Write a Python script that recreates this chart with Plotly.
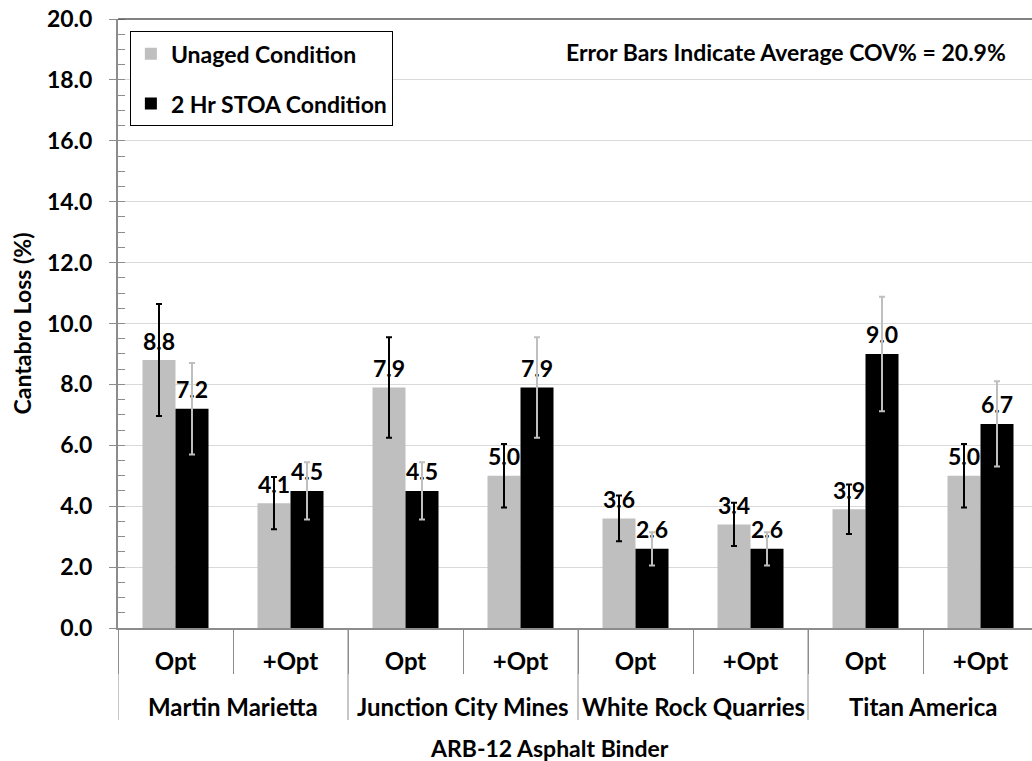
import plotly.graph_objects as go

suppliers = ["Martin Marietta", "Martin Marietta", "Junction City Mines", "Junction City Mines",
             "White Rock Quarries", "White Rock Quarries", "Titan America", "Titan America"]
contents = ["Opt", "+Opt", "Opt", "+Opt", "Opt", "+Opt", "Opt", "+Opt"]
unaged = [8.8, 4.1, 7.9, 5.0, 3.6, 3.4, 3.9, 5.0]
stoa = [7.2, 4.5, 4.5, 7.9, 2.6, 2.6, 9.0, 6.7]
cov_pct = 20.9

FONT = "Lato"
GREY = "#bfbfbf"
AXIS = "#8c8c8c"
pos = list(range(len(contents)))
BARGAP = 0.426

series = [
    ("Unaged Condition", unaged, GREY, "black", "a"),
    ("2 Hr STOA Condition", stoa, "#000000", GREY, "b"),
]

fig = go.Figure()
for name, vals, col, errcol, grp in series:
    fig.add_trace(go.Bar(
        x=pos, y=vals, name=name, legendgroup=grp, offsetgroup=grp, alignmentgroup="g",
        marker=dict(color=col, line=dict(width=0)), hoverinfo="y",
    ))
# value labels, grouped like the bars
for name, vals, col, errcol, grp in series:
    fig.add_trace(go.Scatter(
        x=pos, y=vals, mode="markers+text", showlegend=False,
        offsetgroup=grp, alignmentgroup="g",
        marker=dict(size=6, opacity=0), hoverinfo="skip",
        text=[f"{v:.1f}" for v in vals], textposition="top center", cliponaxis=False,
        textfont=dict(family=FONT, size=23, color="black", weight="bold"),
    ))
# error bars drawn on top of the labels
for name, vals, col, errcol, grp in series:
    fig.add_trace(go.Scatter(
        x=pos, y=vals, mode="markers", showlegend=False,
        offsetgroup=grp, alignmentgroup="g",
        marker=dict(size=1, opacity=0), hoverinfo="skip", cliponaxis=False,
        error_y=dict(type="percent", value=cov_pct, color=errcol, thickness=2, width=3),
    ))

# group (outer) labels and dividers
groups = []
for i, s in enumerate(suppliers):
    if not groups or groups[-1][0] != s:
        groups.append([s, i, i])
    else:
        groups[-1][2] = i

annotations = []
shapes = [dict(type="line", xref="paper", yref="paper", x0=0, x1=1, y0=1, y1=1,
               line=dict(color="#595959", width=1.5))]
for name, a, b in groups:
    annotations.append(dict(text=name, x=(a + b) / 2, xref="x", y=-0.1297, yref="paper",
                            xanchor="center", yanchor="middle", showarrow=False,
                            font=dict(family=FONT, size=24, color="black", weight="bold")))
    shapes.append(dict(type="line", xref="x", yref="paper", x0=a - 0.5, x1=a - 0.5,
                       y0=0, y1=-0.151, line=dict(color=AXIS, width=1)))

annotations.append(dict(text="Error Bars Indicate Average COV% = 20.9%",
                        xref="paper", yref="paper", x=0.731, y=0.946,
                        xanchor="center", yanchor="middle", showarrow=False,
                        font=dict(family=FONT, size=23, color="black", weight="bold")))
annotations.append(dict(text="ARB-12 Asphalt Binder", xref="paper", yref="paper",
                        x=0.4726, y=-0.197, xanchor="center", yanchor="middle", showarrow=False,
                        font=dict(family=FONT, size=23, color="black", weight="bold")))

fig.update_layout(
    width=1032, height=761,
    margin=dict(l=118, r=0, t=19, b=133, autoexpand=False),
    paper_bgcolor="white", plot_bgcolor="white",
    barmode="group", bargap=BARGAP, bargroupgap=0,
    scattermode="group", scattergap=BARGAP,
    font=dict(family=FONT, size=23, color="black", weight="bold"),
    showlegend=True,
    legend=dict(x=0.013, y=0.98, xanchor="left", yanchor="top",
                bordercolor="black", borderwidth=1, bgcolor="white",
                font=dict(family=FONT, size=23, color="black", weight="bold"),
                tracegroupgap=17, itemwidth=30),
    xaxis=dict(
        range=[-0.5, len(pos) - 0.5 - 6 / 115], automargin=False,
        tickmode="array", tickvals=pos, ticktext=contents,
        showline=True, linecolor=AXIS, linewidth=2,
        ticks="outside", ticklen=11, tickcolor="rgba(0,0,0,0)",
        minor=dict(tickmode="array", tickvals=[p - 0.5 for p in pos],
                   ticks="outside", ticklen=44, tickcolor=AXIS, tickwidth=1, showgrid=False),
        showgrid=False, zeroline=False,
        tickfont=dict(family=FONT, size=24, color="black", weight="bold"),
    ),
    yaxis=dict(
        range=[0, 20], dtick=2, tickformat=".1f", automargin=False,
        showline=True, linecolor=AXIS, linewidth=2,
        ticks="outside", ticklen=7, tickcolor=AXIS, tickwidth=1,
        ticklabelstandoff=12, ticklabeloverflow="allow",
        showgrid=True, gridcolor="#d9d9d9", gridwidth=1,
        zeroline=False,
        minor=dict(dtick=0.5, ticks="inside", ticklen=7, tickcolor=AXIS, showgrid=False),
        tickfont=dict(family=FONT, size=23, color="black", weight="bold"),
        title=dict(text="Cantabro Loss (%)", standoff=9,
                   font=dict(family=FONT, size=23, color="black", weight="bold")),
    ),
    annotations=annotations,
    shapes=shapes,
)

fig.write_html("out.html", config={"displayModeBar": False},
               post_script="document.body.style.margin='0';")
